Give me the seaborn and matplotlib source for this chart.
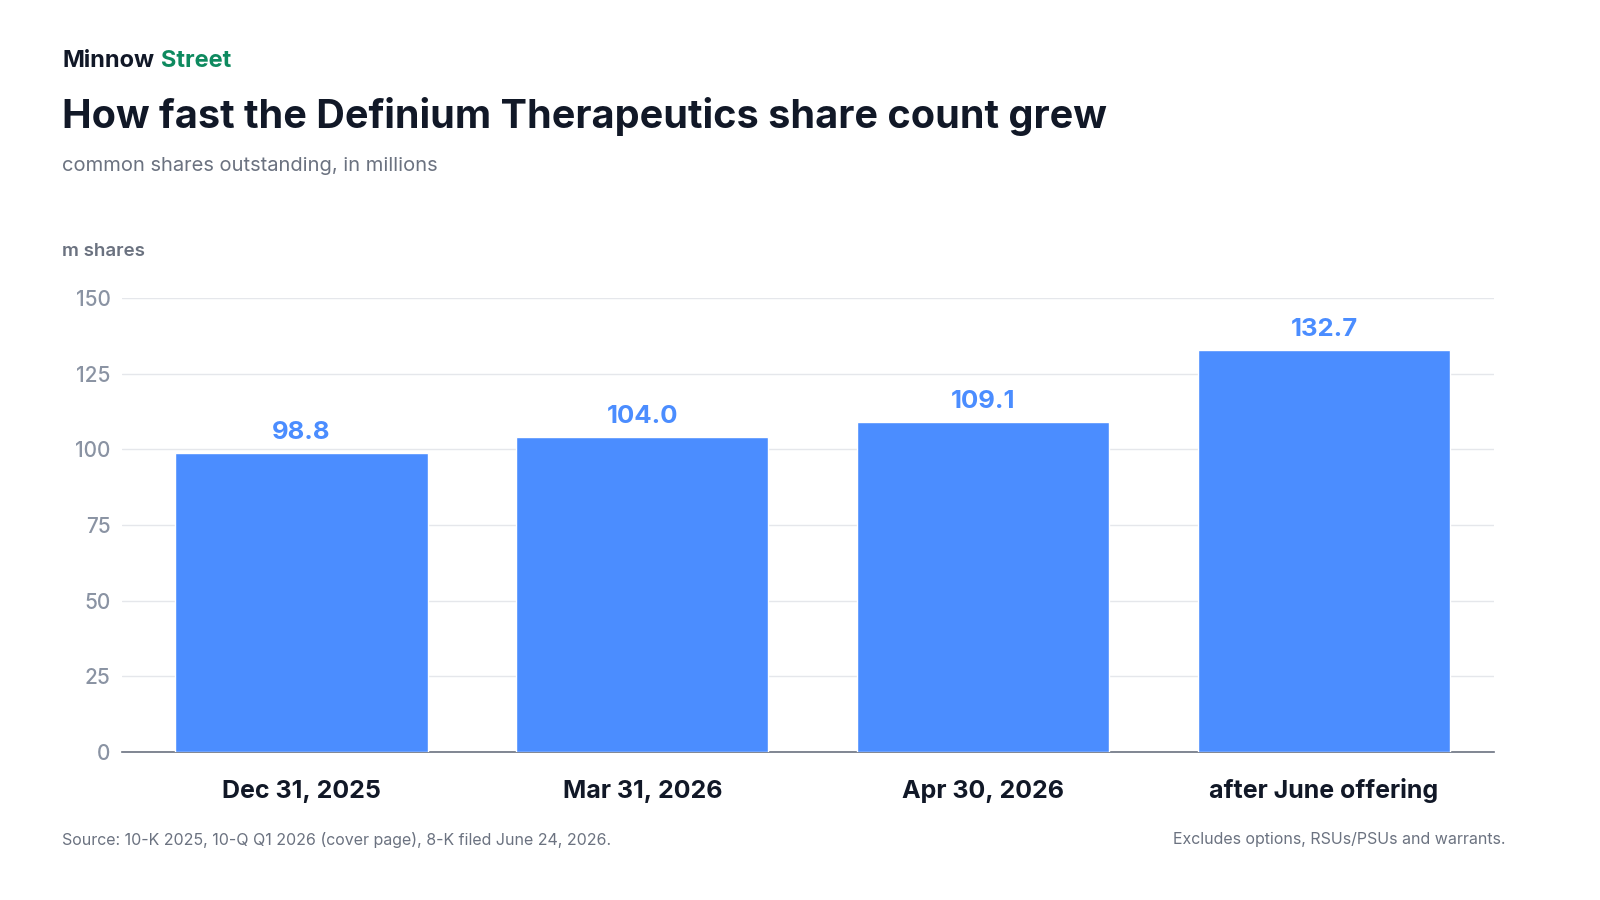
import matplotlib
matplotlib.use("Agg")
from matplotlib import pyplot as plt
import seaborn as sns
import pandas as pd

# Data
periods = ["Dec 31, 2025", "Mar 31, 2026", "Apr 30, 2026", "after June offering"]
shares_m = [98.8, 104.0, 109.1, 132.7]
y_ticks = [0, 25, 50, 75, 100, 125, 150]

sns.set_style("white")
plt.rcParams["font.family"] = ["Inter", "DejaVu Sans"]

df = pd.DataFrame({"period": periods, "shares": shares_m})

fig = plt.figure(figsize=(16, 9), dpi=100)
ax = fig.add_axes([0.076, 0.1644, 0.858, 0.5046])

sns.barplot(data=df, x="period", y="shares", color="#4B8DFF", saturation=1,
            width=0.74, ax=ax, zorder=3)

for i, v in enumerate(shares_m):
    ax.text(i, v + 3, f"{v:.1f}", ha="center", va="bottom", fontsize=18.5,
            fontweight="bold", color="#4B8DFF")

ax.set_ylim(0, 150)
ax.set_xlim(-0.528, 3.5)
ax.set_yticks(y_ticks)
ax.yaxis.grid(True, color="#E5E7EB", linewidth=1, zorder=0)
ax.xaxis.grid(False)
sns.despine(ax=ax, left=True)
ax.spines["bottom"].set_color("#6B7280")
ax.spines["bottom"].set_linewidth(1.2)
ax.tick_params(axis="y", length=0, labelsize=15, labelcolor="#8A93A3", pad=8)
ax.tick_params(axis="x", length=0, labelsize=18, labelcolor="#111827", pad=14)
for lbl in ax.get_yticklabels():
    lbl.set_fontweight("medium")
for lbl in ax.get_xticklabels():
    lbl.set_fontweight("bold")
    lbl.set_verticalalignment("baseline")
ax.tick_params(axis="x", pad=33)
ax.set_xlabel("")
ax.set_ylabel("")

# Header
fig.text(0.039, 0.932, "Minnow", fontsize=17, fontweight="bold", color="#111827", va="center")
fig.text(0.1005, 0.932, "Street", fontsize=17, fontweight="bold", color="#0E8A5F", va="center")
fig.text(0.039, 0.871, "How fast the Definium Therapeutics share count grew",
         fontsize=28.5, fontweight="bold", color="#111827", va="center")
fig.text(0.039, 0.816, "common shares outstanding, in millions", fontsize=14.5,
         color="#6B7280", va="center")
fig.text(0.039, 0.720, "m shares", fontsize=13.5, fontweight="semibold",
         color="#6B7280", va="center")

# Footer
fig.text(0.039, 0.067, "Source: 10-K 2025, 10-Q Q1 2026 (cover page), 8-K filed June 24, 2026.",
         fontsize=11.5, color="#6B7280", va="center")
fig.text(0.941, 0.067, "Excludes options, RSUs/PSUs and warrants.", fontsize=11.5,
         color="#6B7280", va="center", ha="right")

fig.savefig("out.png", dpi=100)
